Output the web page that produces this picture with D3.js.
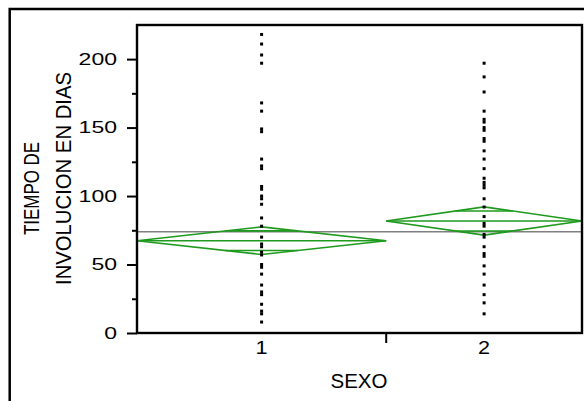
<!DOCTYPE html>
<html>
<head>
<meta charset="utf-8">
<script src="https://cdn.jsdelivr.net/npm/d3@7"></script>
<style>
  body { margin: 0; background: #fff; }
  text { font-family: "Liberation Sans", Arial, sans-serif; fill: #000; }
</style>
</head>
<body>
<div id="chart"></div>
<script>
// groups on the x axis and their (estimated) sizes, which set the widths
var groups = ["1", "2"];
var groupSize = [42, 33];

var sexo1 = [218, 211, 203, 197, 168, 162, 149, 147, 127, 122, 120, 107, 105, 100, 98, 94,
  84, 78, 70, 65, 63, 59, 57, 50, 48, 43, 35, 30, 28, 21, 16, 14, 8];
var sexo2 = [197, 187, 176, 162, 156, 154, 150, 148, 142, 140, 133, 127, 120, 113, 110, 108,
  106, 98, 92, 85, 80, 78, 72, 70, 63, 58, 56, 49, 43, 35, 28, 22, 14];

// means diamonds: group mean and half width of the 95% interval
var groupMean = [67.4, 81.8];
var groupCI = [10.1, 10.3];
var grandMean = 74;

var yTicks = [0, 50, 100, 150, 200];
var yMinorTicks = [25, 75, 125, 175];

var width = 584, height = 401;
var svg = d3.select("#chart").append("svg")
  .attr("width", width)
  .attr("height", height);

//plot area edges
var plotL = 137, plotR = 582, plotT = 25, plotB = 333;

var y = d3.scaleLinear().domain([0, 224.9]).range([plotB, plotT]);

//cumulative group sizes give each group its slice of the x axis
var cum = [0];
groupSize.forEach(function(n, i) { cum.push(cum[i] + n); });
var x = d3.scaleLinear().domain([0, cum[cum.length - 1]]).range([plotL, plotR]);

//outer frame
svg.append("path")
  .attr("d", "M9.7," + height + "V9H" + width)
  .attr("fill", "none")
  .attr("stroke", "#000")
  .attr("stroke-width", 2.5);

//grand mean line
svg.append("line")
  .attr("x1", plotL).attr("x2", plotR)
  .attr("y1", y(grandMean)).attr("y2", y(grandMean))
  .attr("stroke", "#7f7f7f")
  .attr("stroke-width", 1.5);

//diamonds
var green = "#1e9a1e";
groups.forEach(function(g, i) {
  var x0 = x(cum[i]), x1 = x(cum[i + 1]), xc = (x0 + x1) / 2;
  var m = groupMean[i], ci = groupCI[i];
  var grp = svg.append("g")
    .attr("fill", "none")
    .attr("stroke", green)
    .attr("stroke-width", 1.6);
  grp.append("path")
    .attr("d", "M" + x0 + "," + y(m) + "L" + xc + "," + y(m + ci) + "L" + x1 + "," + y(m) +
      "L" + xc + "," + y(m - ci) + "Z");
  grp.append("line")
    .attr("x1", x0).attr("x2", x1)
    .attr("y1", y(m)).attr("y2", y(m));
  //overlap marks at mean +- ci/sqrt(2), spanning the diamond at that height
  var k = 1 / Math.SQRT2;
  var hw = (x1 - x0) / 2 * (1 - k);
  [m + ci * k, m - ci * k].forEach(function(v) {
    grp.append("line")
      .attr("x1", xc - hw).attr("x2", xc + hw)
      .attr("y1", y(v)).attr("y2", y(v));
  });
});

//points
[sexo1, sexo2].forEach(function(vals, i) {
  var xc = x((cum[i] + cum[i + 1]) / 2);
  svg.append("g").selectAll("rect")
    .data(vals)
    .enter().append("rect")
    .attr("x", xc - 1.5)
    .attr("y", function(d) { return y(d) - 1.5; })
    .attr("width", 3)
    .attr("height", 3)
    .attr("fill", "#000");
});

//plot frame
svg.append("rect")
  .attr("x", plotL).attr("y", plotT)
  .attr("width", plotR - plotL).attr("height", plotB - plotT)
  .attr("fill", "none")
  .attr("stroke", "#000")
  .attr("stroke-width", 2.4);

//y axis, major and minor ticks
var yAxis = svg.append("g")
  .attr("transform", "translate(" + plotL + ",0)")
  .call(d3.axisLeft(y).tickValues(yTicks).tickSize(10).tickPadding(10));
yAxis.select(".domain").remove();
yAxis.selectAll("line").attr("stroke", "#000").attr("stroke-width", 2);
yAxis.selectAll("text")
  .attr("font-size", 16.5)
  .attr("font-family", "Liberation Sans, Arial, sans-serif")
  .attr("textLength", function(d) { return String(d).length * 12.8; })
  .attr("lengthAdjust", "spacingAndGlyphs");

var yMinor = svg.append("g")
  .attr("transform", "translate(" + plotL + ",0)")
  .call(d3.axisLeft(y).tickValues(yMinorTicks).tickSize(5).tickFormat(""));
yMinor.select(".domain").remove();
yMinor.selectAll("line").attr("stroke", "#000").attr("stroke-width", 2);

//x axis: separator ticks between groups, labels at group centers
svg.append("g").selectAll("line")
  .data(cum.slice(1, -1))
  .enter().append("line")
  .attr("x1", function(d) { return x(d); })
  .attr("x2", function(d) { return x(d); })
  .attr("y1", plotB).attr("y2", plotB + 10)
  .attr("stroke", "#000")
  .attr("stroke-width", 2);

svg.append("g").selectAll("text")
  .data(groups)
  .enter().append("text")
  .attr("x", function(d, i) { return x((cum[i] + cum[i + 1]) / 2); })
  .attr("y", 354)
  .attr("text-anchor", "middle")
  .attr("font-size", 17.5)
  .attr("textLength", 12)
  .attr("lengthAdjust", "spacingAndGlyphs")
  .text(function(d) { return d; });

//axis titles
svg.append("text")
  .attr("x", 359).attr("y", 388)
  .attr("text-anchor", "middle")
  .attr("font-size", 20.5)
  .text("SEXO");

svg.append("text")
  .attr("transform", "translate(39,188.5) rotate(-90)")
  .attr("text-anchor", "middle")
  .attr("font-size", 21.5)
  .attr("textLength", 93)
  .attr("lengthAdjust", "spacingAndGlyphs")
  .text("TIEMPO DE");

svg.append("text")
  .attr("transform", "translate(70.5,178.5) rotate(-90)")
  .attr("text-anchor", "middle")
  .attr("font-size", 21.5)
  .attr("textLength", 213)
  .attr("lengthAdjust", "spacingAndGlyphs")
  .text("INVOLUCION EN DIAS");
</script>
</body>
</html>
